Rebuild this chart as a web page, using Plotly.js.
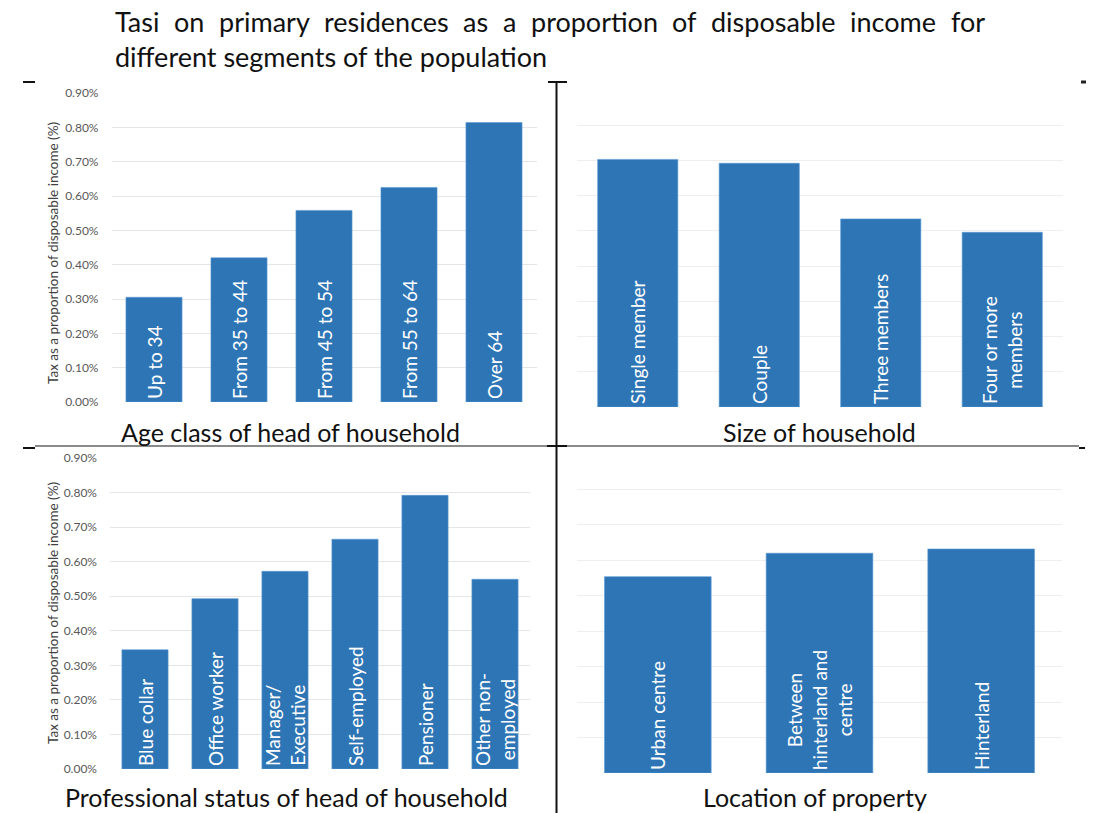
<!DOCTYPE html>
<html>
<head>
<meta charset="utf-8">
<script src="https://cdn.plot.ly/plotly-3.0.1.min.js"></script>
<style>html,body{margin:0;padding:0;background:#fff;}#chart{width:1094px;height:813px;}</style>
</head>
<body>
<div id="chart"></div>
<script>
// ---- data ----
const ageCategories = ["Up to 34", "From 35 to 44", "From 45 to 54", "From 55 to 64", "Over 64"];
const ageValues = [0.305, 0.42, 0.558, 0.625, 0.814];

const sizeCategories = ["Single member", "Couple", "Three members", "Four or more<br>members"];
const sizeValues = [0.703, 0.692, 0.534, 0.496];

const statusCategories = ["Blue collar", "Office worker", "Manager/<br>Executive", "Self-employed", "Pensioner", "Other non-<br>employed"];
const statusValues = [0.345, 0.493, 0.572, 0.665, 0.792, 0.549];

const locationCategories = ["Urban centre", "Between<br>hinterland and<br>centre", "Hinterland"];
const locationValues = [0.554, 0.620, 0.632];

const yTickValues = [0, 0.1, 0.2, 0.3, 0.4, 0.5, 0.6, 0.7, 0.8, 0.9];
const yTickLabels = ["0.00%", "0.10%", "0.20%", "0.30%", "0.40%", "0.50%", "0.60%", "0.70%", "0.80%", "0.90%"];

const mainTitleLine1 = "Tasi on primary residences as a proportion of disposable income for";
const mainTitleLine2 = "different segments of the population";
const panelTitles = ["Age class of head of household", "Size of household",
                     "Professional status of head of household", "Location of property"];
const yTitle = "Tax as a proportion of disposable income (%)";

// ---- layout helpers ----
const W = 1094, H = 813;
const px = x => x / W;
const py = y => 1 - y / H;
const FONT = "Lato, 'Open Sans', sans-serif";
const BLUE = "#2E75B6";
const TITLE_SIZE = 27;

function barTrace(cats, vals, xa, ya) {
  return {
    type: "bar", x: cats, y: vals, text: cats, xaxis: xa, yaxis: ya,
    marker: {color: BLUE, line: {color: "#5B9BD5", width: 0.6}},
    textposition: "inside", insidetextanchor: "start", textangle: -90,
    insidetextfont: {family: FONT, size: 19, color: "#ffffff"},
    constraintext: "none", cliponaxis: false, hoverinfo: "skip"
  };
}

const data = [
  barTrace(ageCategories, ageValues, "x", "y"),
  barTrace(sizeCategories, sizeValues, "x2", "y2"),
  barTrace(statusCategories, statusValues, "x3", "y3"),
  barTrace(locationCategories, locationValues, "x4", "y4")
];

function xAxis(x0, x1, anchor) {
  return {domain: [px(x0), px(x1)], anchor: anchor, showticklabels: false, showgrid: false,
          zeroline: false, showline: false, ticks: "", fixedrange: true};
}
function yAxis(y0, y1, anchor, showLabels, gridColor) {
  return {domain: [py(y1), py(y0)], anchor: anchor, range: [0, 0.9],
          tickmode: "array", tickvals: yTickValues, ticktext: yTickLabels,
          showticklabels: showLabels,
          tickfont: {family: FONT, size: 12, color: "#595959"}, ticklabelstandoff: 12,
          showgrid: true, gridcolor: gridColor, gridwidth: 1, zeroline: false,
          showline: false, ticks: "", fixedrange: true};
}

const lineBlack = {color: "#111111", width: 2};
function seg(x0, y0, x1, y1, line) {
  return {type: "line", xref: "paper", yref: "paper", x0: px(x0), y0: py(y0), x1: px(x1), y1: py(y1), line: line};
}
const shapes = [
  seg(556.5, 82, 556.5, 813, lineBlack),
  seg(548, 82, 567, 82, lineBlack),
  seg(35, 446, 1079, 446, {color: "#8a8a8a", width: 2}),
  seg(547, 446, 567, 446, lineBlack),
  seg(23, 448, 35, 448, lineBlack),
  seg(1079, 448, 1085, 448, lineBlack),
  seg(23, 82, 35, 82, lineBlack),
  seg(1081, 82, 1086, 82, {color: "#222222", width: 3})
];

function note(text, x, y, size, extra) {
  return Object.assign({text: text, xref: "paper", yref: "paper", x: px(x), y: py(y),
    showarrow: false, font: {family: FONT, size: size, color: "#111111"},
    xanchor: "center", yanchor: "middle"}, extra || {});
}

// justified first title line: words spread between x=113 and x=983
function justifiedLine(text, xLeft, xRight, y, size) {
  const ctx = document.createElement("canvas").getContext("2d");
  ctx.font = size + "px Lato";
  const words = text.split(" ");
  const widths = words.map(w => ctx.measureText(w).width);
  const total = widths.reduce((a, b) => a + b, 0);
  const gap = (xRight - xLeft - total) / (words.length - 1);
  const out = [];
  let x = xLeft;
  words.forEach((w, i) => {
    out.push(note(w, x, y, size, {xanchor: "left"}));
    x += widths[i] + gap;
  });
  return out;
}

const annotations = [].concat(
  justifiedLine(mainTitleLine1, 113, 983, 22, TITLE_SIZE),
  [
    note(mainTitleLine2, 113, 57, TITLE_SIZE, {xanchor: "left"}),
    note(panelTitles[0], 290, 432, 25),
    note(panelTitles[1], 819, 432, 25),
    note(panelTitles[2], 286, 797, 25),
    note(panelTitles[3], 815, 797, 25),
    note(yTitle, 53, 253, 13.5, {textangle: -90, font: {family: FONT, size: 13.5, color: "#404040"}}),
    note(yTitle, 53, 613, 13.5, {textangle: -90, font: {family: FONT, size: 13.5, color: "#404040"}})
  ]
);

const layout = {
  width: W, height: H, margin: {l: 0, r: 0, t: 0, b: 0},
  paper_bgcolor: "#ffffff", plot_bgcolor: "#ffffff",
  showlegend: false, bargap: 0.34, hovermode: false,
  xaxis: xAxis(111.5, 536.5, "y"),
  yaxis: yAxis(93, 402, "x", true, "#e6e6e6"),
  xaxis2: xAxis(577, 1063, "y2"),
  yaxis2: yAxis(90, 407, "x2", false, "#eeeeee"),
  xaxis3: xAxis(110, 530, "y3"),
  yaxis3: yAxis(458, 769, "x3", true, "#e6e6e6"),
  xaxis4: xAxis(577, 1062, "y4"),
  yaxis4: yAxis(454, 773, "x4", false, "#eeeeee"),
  shapes: shapes, annotations: annotations
};

Plotly.newPlot("chart", data, layout, {staticPlot: true, displayModeBar: false});
</script>
</body>
</html>
